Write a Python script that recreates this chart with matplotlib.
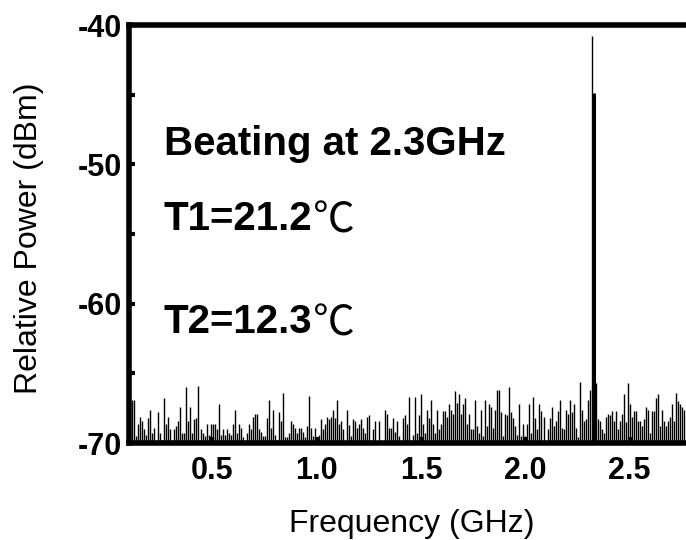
import numpy as np
import matplotlib
matplotlib.use('Agg')
import matplotlib.pyplot as plt

plt.rcParams['font.family'] = ['Liberation Sans', 'DejaVu Sans']
plt.rcParams['axes.unicode_minus'] = False

# spectrum, 0.116 .. 2.76 GHz, evenly spaced
f_start, f_stop = 0.116, 2.76
seg1 = [-66.9, -66.9, -69.5, -68.6, -68.1, -68.4, -69.0, -69.4, -68.2, -67.6,
        -69.3, -68.9, -69.9, -67.8, -69.3, -69.8, -66.8, -68.6, -68.1, -69.0,
        -69.9, -69.0, -68.8, -68.4, -67.4, -69.3, -69.3, -66.0, -68.4, -67.4,
        -69.3, -68.3, -68.2, -65.9, -69.0, -69.3, -69.5, -68.6, -69.4, -68.6,
        -68.6, -68.6, -69.0, -67.2, -69.4, -69.0, -69.4, -69.0, -69.3, -69.4,
        -68.6, -67.6, -69.3, -68.6, -68.9, -69.6, -69.9, -69.3, -68.6, -69.0,
        -68.1, -67.9, -67.9, -69.0, -69.2, -69.5, -69.5, -68.2]
seg2 = [-66.9, -68.9, -67.6, -69.4, -69.8, -67.8, -68.4, -66.4, -69.6, -69.6,
        -69.3, -68.4, -68.6, -68.9, -69.3, -68.9, -68.9, -69.2, -69.6, -68.8,
        -66.6, -68.9, -69.5, -68.9, -69.8, -69.4, -68.3, -69.0, -68.6, -68.1,
        -68.3, -68.1, -67.6, -68.2, -66.9, -68.6, -68.4, -69.0, -69.9, -67.6,
        -68.7, -69.5, -68.3, -68.4, -68.9, -68.6, -68.3, -68.9, -69.3, -68.1,
        -68.0, -69.9, -69.0, -68.4, -69.9, -68.4, -69.9, -69.9, -67.6, -67.9,
        -68.9, -68.9, -68.2, -69.2, -68.4, -69.5, -69.9, -68.2, -68.0, -68.6]
seg3 = [-66.7, -69.9, -69.4, -66.7, -69.3, -68.0, -66.5, -68.6, -69.3, -67.6,
        -68.2, -66.9, -68.6, -69.3, -67.6, -69.0, -68.6, -67.7, -67.7, -68.1,
        -67.2, -67.6, -67.9, -66.3, -67.1, -66.5, -67.9, -67.2, -66.8, -68.6,
        -67.9, -69.0, -69.0, -66.9, -68.8, -69.3, -67.6, -69.5, -66.9, -68.8,
        -67.2, -67.4, -68.9, -67.6, -66.2, -66.2, -67.8, -69.5, -67.9, -68.0,
        -66.0, -67.8, -68.2, -68.8, -69.4, -67.2, -69.5, -68.6, -69.5, -68.6,
        -67.2, -69.3, -66.7, -68.2, -69.0, -67.2, -67.7, -68.1, -69.9]
seg4 = [-69.0, -68.2, -67.4, -68.8, -68.4, -67.7, -66.9, -68.9, -69.0, -67.6,
        -67.9, -66.9, -67.8, -67.2, -68.9, -69.6, -65.6, -67.6, -68.4, -68.3,
        -66.9, -66.2, -40.8, -44.9, -65.7, -68.3, -68.4, -69.0, -69.3, -68.1,
        -67.9, -68.0, -67.7, -68.4, -67.7, -69.0, -68.4, -67.9, -66.5, -68.5,
        -65.7, -67.2, -68.1, -67.7, -67.7, -68.4, -68.4, -68.8, -68.3, -67.4,
        -67.6, -69.3, -67.7, -67.7, -66.8, -66.5, -68.8, -67.6, -68.4, -68.8,
        -68.4, -68.1, -67.2, -68.4, -66.4, -67.0, -67.2, -67.4, -67.6]
power = np.array(seg1 + seg2 + seg3 + seg4)
freq = np.linspace(f_start, f_stop, len(power))

xticks = [0.5, 1.0, 1.5, 2.0, 2.5]
yticks = [-70, -60, -50, -40]
yminor = [-65, -55, -45]

fig = plt.figure(figsize=(6.86, 5.40), dpi=100)
ax = fig.add_axes([0.188, 0.1796, 0.812, 0.774])

lw = np.full(len(power), 1.0)
ipk = int(np.argmax(power))
lw[ipk + 1] = 2.2
ax.vlines(freq, -70, power, colors='k', linewidths=lw)

ax.set_xlim(0.1, 2.77)
ax.set_ylim(-70, -40)
ax.set_xticks(xticks, [f'{v:.1f}' for v in xticks], fontsize=22, fontweight='bold')
ax.set_yticks(yticks, [str(v) for v in yticks], fontsize=22, fontweight='bold')
ax.set_yticks(yminor, minor=True)
ax.tick_params(which='both', direction='in', width=3, length=4)
ax.tick_params(axis='y', pad=5)
ax.tick_params(axis='x', pad=9)
ax.spines['right'].set_visible(False)
for s in ['left', 'top', 'bottom']:
    ax.spines[s].set_linewidth(4)

ax.text(0.266, -49.33, 'Beating at 2.3GHz', fontsize=29, fontweight='bold', va='baseline')
t1 = ax.text(0.266, -54.72, 'T1=21.2', fontsize=29, fontweight='bold', va='baseline')
t2 = ax.text(0.266, -62.11, 'T2=12.3', fontsize=29, fontweight='bold', va='baseline')

fig.canvas.draw()
inv = ax.transData.inverted()
for t in (t1, t2):
    bb = t.get_window_extent()
    xd = inv.transform((bb.x1 + 1, bb.y0))[0]
    ax.text(xd, t.get_position()[1] - 0.2, '℃', fontsize=30,
            family=['Noto Sans CJK SC', 'DejaVu Sans'], fontweight='light',
            va='baseline')

fig.text(412 / 686, 1 - 532 / 540, 'Frequency (GHz)', fontsize=23,
         ha='center', va='baseline')
fig.text(29 / 686, 1 - 238 / 540, 'Relative Power (dBm)', fontsize=23,
         rotation=90, ha='center', va='center')

fig.savefig('out.png', dpi=100)
